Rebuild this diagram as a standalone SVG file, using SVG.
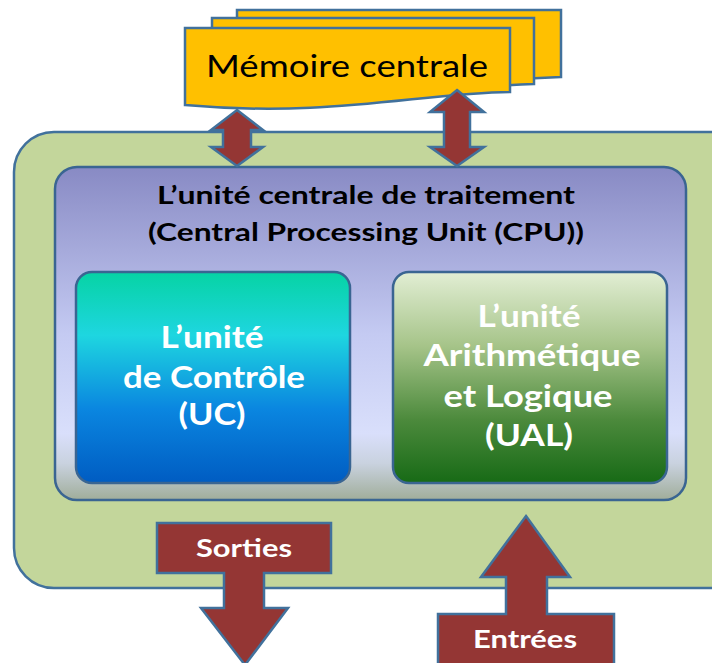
<svg xmlns="http://www.w3.org/2000/svg" width="712" height="663" viewBox="0 0 712 663">
<defs>
<linearGradient id="gCpu" x1="0" y1="0" x2="0" y2="1">
<stop offset="0" stop-color="#888ac4"/>
<stop offset="0.5" stop-color="#c4caf2"/>
<stop offset="0.8" stop-color="#d9dffb"/>
<stop offset="0.89" stop-color="#c9d2df"/>
<stop offset="1" stop-color="#a0ad9a"/>
</linearGradient>
<linearGradient id="gUc" x1="0" y1="0" x2="0" y2="1">
<stop offset="0" stop-color="#06d3a4"/>
<stop offset="0.3" stop-color="#1ed6e0"/>
<stop offset="0.65" stop-color="#0a86e0"/>
<stop offset="1" stop-color="#005cc2"/>
</linearGradient>
<linearGradient id="gUal" x1="0" y1="0" x2="0" y2="1">
<stop offset="0" stop-color="#e2eed4"/>
<stop offset="0.35" stop-color="#a6c489"/>
<stop offset="0.7" stop-color="#4c8a3c"/>
<stop offset="1" stop-color="#176a16"/>
</linearGradient>
<style>
.doc{fill:#ffc000;stroke:#41719c;stroke-width:2.5}
.arr{fill:#943634;stroke:#41719c;stroke-width:2.5;stroke-linejoin:miter}
.box{stroke:#3a6592;stroke-width:2.5}
.t{font-family:Lato,"Open Sans","DejaVu Sans",sans-serif;text-anchor:middle}
.b{font-weight:bold}
.w{fill:#ffffff}
</style>
</defs>

<g id="outer">
<rect x="14" y="132" width="740" height="456" rx="40" ry="40" fill="#c3d69b" stroke="#41719c" stroke-width="2.5"/>
</g>

<g id="memoire">
<path class="doc" d="M237,10 H561 V77 C480,80 460,85 420,88 L420,60 L237,60 Z"/>
<path class="doc" d="M212,18 H534 V84 C460,87 440,92 400,95 L400,70 L212,70 Z"/>
<path class="doc" d="M185,28 H510 V92 C420,93 330,118 185,105 Z"/>
<text class="t" x="347" y="77" font-size="30" fill="#000000" textLength="282" lengthAdjust="spacingAndGlyphs">Mémoire centrale</text>
</g>

<g id="cpu">
<rect class="box" x="55" y="167" width="631" height="333" rx="22" ry="22" fill="url(#gCpu)"/>
<text class="t b" x="366" y="204" font-size="25" fill="#000000" textLength="418" lengthAdjust="spacingAndGlyphs">L’unité centrale de traitement</text>
<text class="t b" x="366" y="241" font-size="25" fill="#000000" textLength="436" lengthAdjust="spacingAndGlyphs">(Central Processing Unit (CPU))</text>
</g>

<g id="uc">
<rect class="box" x="76" y="272" width="274" height="211" rx="16" ry="16" fill="url(#gUc)"/>
<text class="t b w" x="212" y="348" font-size="30" textLength="103" lengthAdjust="spacingAndGlyphs">L’unité</text>
<text class="t b w" x="214" y="388" font-size="30" textLength="182" lengthAdjust="spacingAndGlyphs">de Contrôle</text>
<text class="t b w" x="212" y="425" font-size="30" textLength="67" lengthAdjust="spacingAndGlyphs">(UC)</text>
</g>

<g id="ual">
<rect class="box" x="393" y="272" width="274" height="211" rx="16" ry="16" fill="url(#gUal)"/>
<text class="t b w" x="529" y="327" font-size="30" textLength="103" lengthAdjust="spacingAndGlyphs">L’unité</text>
<text class="t b w" x="532" y="366" font-size="30" textLength="217" lengthAdjust="spacingAndGlyphs">Arithmétique</text>
<text class="t b w" x="528" y="407" font-size="30" textLength="169" lengthAdjust="spacingAndGlyphs">et Logique</text>
<text class="t b w" x="529" y="446" font-size="30" textLength="88" lengthAdjust="spacingAndGlyphs">(UAL)</text>
</g>

<g id="connectors">
<path class="arr" d="M237,110 L263,130 L251,130 L251,147 L263,147 L237,166 L211,147 L223,147 L223,130 L211,130 Z"/>
<path class="arr" d="M457,90 L484,112 L470,112 L470,147 L484,147 L457,166 L430,147 L444,147 L444,112 L430,112 Z"/>
<path class="arr" d="M157,523 H331 V573 H264 V608 H288 L245,665 L201,608 H224 V573 H157 Z"/>
<path class="arr" d="M526,516 L570,577 H547 V614 H614 V670 H438 V614 H506 V577 H481 Z"/>
<text class="t b w" x="244" y="557" font-size="24" textLength="96" lengthAdjust="spacingAndGlyphs">Sorties</text>
<text class="t b w" x="525" y="648" font-size="24" textLength="104" lengthAdjust="spacingAndGlyphs">Entrées</text>
</g>
</svg>
